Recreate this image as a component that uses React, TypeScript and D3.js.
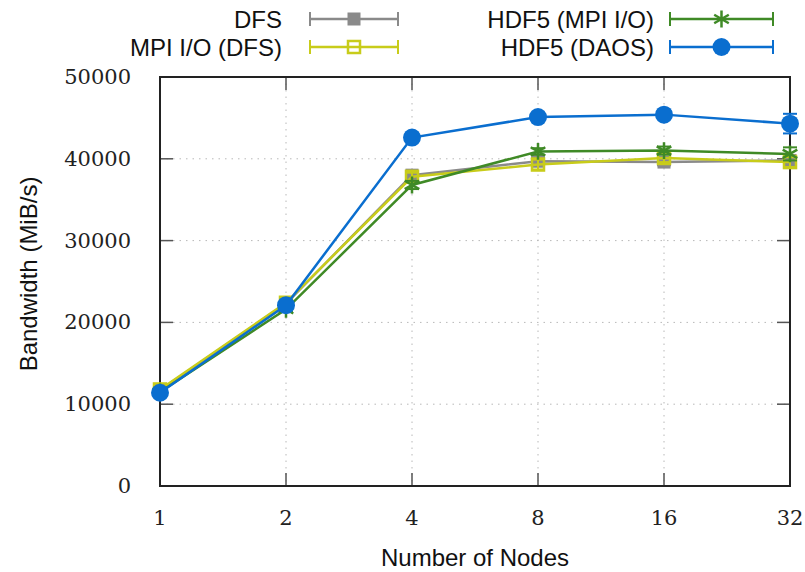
import React from "react";
import * as d3 from "d3";

const nodes = [1, 2, 4, 8, 16, 32];
const yTicks = [0, 10000, 20000, 30000, 40000, 50000];

const dfs = [11700, 22300, 38000, 39700, 39600, 39800];
const dfsErr = [200, 300, 400, 400, 400, 500];
const mpiio = [11800, 22400, 37800, 39300, 40100, 39600];
const mpiioErr = [200, 300, 500, 600, 500, 600];
const hdf5Mpi = [11500, 21600, 36800, 40900, 41000, 40600];
const hdf5MpiErr = [200, 300, 500, 400, 500, 800];
const hdf5Daos = [11400, 22100, 42600, 45100, 45400, 44300];
const hdf5DaosErr = [200, 300, 300, 300, 300, 1200];

const series = [
  { name: "DFS", values: dfs, err: dfsErr, color: "#8a8a8a", marker: "fsquare" },
  { name: "MPI I/O (DFS)", values: mpiio, err: mpiioErr, color: "#c8cc1a", marker: "osquare" },
  { name: "HDF5 (MPI I/O)", values: hdf5Mpi, err: hdf5MpiErr, color: "#3f8a26", marker: "star" },
  { name: "HDF5 (DAOS)", values: hdf5Daos, err: hdf5DaosErr, color: "#0a6ecf", marker: "circle" },
];

const W = 805, H = 572;
const left = 160, right = 790, top = 77, bottom = 486;
const sans = "'Liberation Sans', Arial, sans-serif";
const serif = "'DejaVu Serif', serif";

const Marker = ({ type, cx, cy, color }) => {
  if (type === "circle") return <circle cx={cx} cy={cy} r={9} fill={color} />;
  if (type === "fsquare")
    return <rect x={cx - 6.5} y={cy - 6.5} width={13} height={13} fill={color} />;
  if (type === "osquare")
    return (
      <rect x={cx - 6} y={cy - 6} width={12} height={12} fill="none" stroke={color} strokeWidth={2.5} />
    );
  const p = d3.symbol(d3.symbolAsterisk, 200)();
  return <path d={p} transform={`translate(${cx},${cy})`} fill="none" stroke={color} strokeWidth={2.5} />;
};

export default function App() {
  const x = d3.scaleLog().base(2).domain([1, 32]).range([left, right]);
  const y = d3.scaleLinear().domain([0, 50000]).range([bottom, top]);
  const line = d3
    .line<number>()
    .x((_, i) => x(nodes[i]))
    .y((d) => y(d));

  const legendPos = [
    { tx: 282, x0: 310, x1: 398, ty: 19 },
    { tx: 282, x0: 310, x1: 398, ty: 47 },
    { tx: 654, x0: 670, x1: 773, ty: 19 },
    { tx: 654, x0: 670, x1: 773, ty: 47 },
  ];

  return (
    <svg width={W} height={H} style={{ position: "absolute", left: 0, top: 0 }}>
      <rect width={W} height={H} fill="#fff" />
      {/* grid */}
      {yTicks.slice(1, -1).map((t) => (
        <line key={"gy" + t} x1={left} x2={right} y1={y(t)} y2={y(t)} stroke="#b8b8b8" strokeDasharray="1.5,5" />
      ))}
      {nodes.slice(1, -1).map((n) => (
        <line key={"gx" + n} x1={x(n)} x2={x(n)} y1={top} y2={bottom} stroke="#b8b8b8" strokeDasharray="1.5,5" />
      ))}
      {/* ticks */}
      {yTicks.map((t) => (
        <g key={"ty" + t}>
          <line x1={left} x2={left + 13} y1={y(t)} y2={y(t)} stroke="#555" strokeWidth={1.5} />
          <line x1={right} x2={right - 13} y1={y(t)} y2={y(t)} stroke="#555" strokeWidth={1.5} />
          <text x={131} y={y(t)} textAnchor="end" dominantBaseline="central" fontFamily={serif} fontSize={21} fill="#222">
            {t}
          </text>
        </g>
      ))}
      {nodes.map((n) => (
        <g key={"tx" + n}>
          <line x1={x(n)} x2={x(n)} y1={bottom} y2={bottom - 13} stroke="#555" strokeWidth={1.5} />
          <line x1={x(n)} x2={x(n)} y1={top} y2={top + 13} stroke="#555" strokeWidth={1.5} />
          <text x={x(n)} y={518} textAnchor="middle" dominantBaseline="central" fontFamily={serif} fontSize={21} fill="#222">
            {n}
          </text>
        </g>
      ))}
      <rect x={left} y={top} width={right - left} height={bottom - top} fill="none" stroke="#222" strokeWidth={2} />
      {/* series */}
      {series.map((s) => (
        <g key={s.name}>
          <path d={line(s.values) || ""} fill="none" stroke={s.color} strokeWidth={2.5} />
          {s.values.map((v, i) => {
            const cx = x(nodes[i]);
            const y0 = y(v - s.err[i]);
            const y1 = y(v + s.err[i]);
            return (
              <g key={i}>
                <line x1={cx} x2={cx} y1={y0} y2={y1} stroke={s.color} strokeWidth={2} />
                <line x1={cx - 7} x2={cx + 7} y1={y0} y2={y0} stroke={s.color} strokeWidth={2} />
                <line x1={cx - 7} x2={cx + 7} y1={y1} y2={y1} stroke={s.color} strokeWidth={2} />
                <Marker type={s.marker} cx={cx} cy={y(v)} color={s.color} />
              </g>
            );
          })}
        </g>
      ))}
      {/* legend */}
      {series.map((s, i) => {
        const p = legendPos[i];
        const mx = (p.x0 + p.x1) / 2;
        return (
          <g key={"lg" + s.name}>
            <text x={p.tx} y={p.ty} textAnchor="end" dominantBaseline="central" fontFamily={sans} fontSize={24} fill="#111">
              {s.name}
            </text>
            <line x1={p.x0} x2={p.x1} y1={p.ty} y2={p.ty} stroke={s.color} strokeWidth={2.5} />
            <line x1={p.x0} x2={p.x0} y1={p.ty - 7} y2={p.ty + 7} stroke={s.color} strokeWidth={2} />
            <line x1={p.x1} x2={p.x1} y1={p.ty - 7} y2={p.ty + 7} stroke={s.color} strokeWidth={2} />
            <Marker type={s.marker} cx={mx} cy={p.ty} color={s.color} />
          </g>
        );
      })}
      {/* axis titles */}
      <text
        transform={`translate(28,274) rotate(-90)`}
        textAnchor="middle"
        dominantBaseline="central"
        fontFamily={sans}
        fontSize={24}
        fill="#111"
      >
        Bandwidth (MiB/s)
      </text>
      <text x={475} y={557} textAnchor="middle" dominantBaseline="central" fontFamily={sans} fontSize={24} fill="#111">
        Number of Nodes
      </text>
    </svg>
  );
}
